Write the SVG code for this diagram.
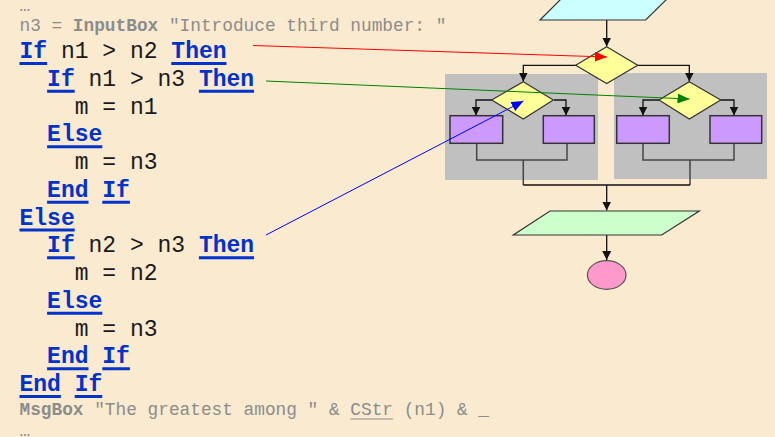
<svg xmlns="http://www.w3.org/2000/svg" width="775" height="437" viewBox="0 0 775 437">
  <style>
    .code { font-family: "Liberation Mono", "DejaVu Sans Mono", monospace; font-size: 23px; fill: #1a1a1a; }
    .kw { font-weight: bold; fill: #0033cc; }
    .ul { stroke: #0033cc; stroke-width: 3; fill: none; }
    .dim { font-family: "Liberation Mono", "DejaVu Sans Mono", monospace; font-size: 17.8px; fill: #8c8c8c; }
    .dimb { font-weight: bold; }
    .panel { fill: #c0c0c0; }
    .io-in { fill: #ccffff; stroke: #333; stroke-width: 1.2; }
    .io-out { fill: #ccffcc; stroke: #333; stroke-width: 1.2; }
    .dec { fill: #ffff99; stroke: #333; stroke-width: 1.2; }
    .proc { fill: #cc99ff; stroke: #333; stroke-width: 1.5; }
    .term { fill: #ff99cc; stroke: #555; stroke-width: 1.2; }
    .flow { fill: none; stroke: #111; stroke-width: 1.3; }
    .join { fill: none; stroke: #444; stroke-width: 1.5; }
    .link { fill: none; stroke-width: 1; }
  </style>
  <defs>
    <marker id="ah" markerUnits="userSpaceOnUse" markerWidth="9" markerHeight="9" viewBox="0 0 8 8" refX="8" refY="4" orient="auto">
      <path d="M0,0 L8,4 L0,8 z" fill="#111"/>
    </marker>
    <marker id="ah-red" markerUnits="userSpaceOnUse" markerWidth="12" markerHeight="10" viewBox="0 0 12 10" refX="12" refY="5" orient="auto">
      <path d="M0,0 L12,5 L0,10 z" fill="#ff0000"/>
    </marker>
    <marker id="ah-green" markerUnits="userSpaceOnUse" markerWidth="12" markerHeight="10" viewBox="0 0 12 10" refX="12" refY="5" orient="auto">
      <path d="M0,0 L12,5 L0,10 z" fill="#008000"/>
    </marker>
    <marker id="ah-blue" markerUnits="userSpaceOnUse" markerWidth="12" markerHeight="10" viewBox="0 0 12 10" refX="12" refY="5" orient="auto">
      <path d="M0,0 L12,5 L0,10 z" fill="#0000ff"/>
    </marker>
  </defs>

  <rect width="775" height="437" fill="#faebd0"/>

  <!-- code listing -->
  <g id="listing" xml:space="preserve">
    <text class="dim" x="19.5" y="11">…</text>
    <text class="dim" x="19.5" y="31">n3 = <tspan class="dimb">InputBox</tspan> "Introduce third number: "</text>

    <text class="code" x="19.5" y="58"><tspan class="kw">If</tspan> n1 &gt; n2 <tspan class="kw">Then</tspan></text>
    <text class="code" x="47.1" y="85.75"><tspan class="kw">If</tspan> n1 &gt; n3 <tspan class="kw">Then</tspan></text>
    <text class="code" x="74.7" y="113.5">m = n1</text>
    <text class="code kw" x="47.1" y="141.25">Else</text>
    <text class="code" x="74.7" y="169">m = n3</text>
    <text class="code kw" x="47.1" y="196.75">End If</text>
    <text class="code kw" x="19.5" y="224.5">Else</text>
    <text class="code" x="47.1" y="252.25"><tspan class="kw">If</tspan> n2 &gt; n3 <tspan class="kw">Then</tspan></text>
    <text class="code" x="74.7" y="280">m = n2</text>
    <text class="code kw" x="47.1" y="307.75">Else</text>
    <text class="code" x="74.7" y="335.5">m = n3</text>
    <text class="code kw" x="47.1" y="363.25">End If</text>
    <text class="code kw" x="19.5" y="391">End If</text>

    <text class="dim" x="19.5" y="415"><tspan class="dimb">MsgBox</tspan> "The greatest among " &amp; CStr (n1) &amp; _</text>
    <text class="dim" x="19.5" y="436">…</text>

    <!-- keyword underlines -->
    <path class="ul" d="M19.5,63.5 h27.6 M171.3,63.5 h55.2
                        M47.1,91.25 h27.6 M198.9,91.25 h55.2
                        M47.1,146.75 h55.2
                        M47.1,202.25 h41.4 M102.3,202.25 h27.6
                        M19.5,230 h55.2
                        M47.1,257.75 h27.6 M198.9,257.75 h55.2
                        M47.1,313.25 h55.2
                        M47.1,368.75 h41.4 M102.3,368.75 h27.6
                        M19.5,396.5 h41.4 M74.7,396.5 h27.6"/>
    <path d="M350.3,419 h42.7" stroke="#8c8c8c" stroke-width="1" fill="none"/>
  </g>

  <!-- branch panels -->
  <rect id="panel-left" class="panel" x="445" y="74" width="153" height="106"/>
  <rect id="panel-right" class="panel" x="614" y="73" width="153" height="106"/>

  <!-- flow connectors -->
  <g id="connectors">
    <path class="flow" d="M606.7,20 V46.5" marker-end="url(#ah)"/>
    <path class="flow" d="M576,65.3 H523.3 V81.5" marker-end="url(#ah)"/>
    <path class="flow" d="M637.7,65.3 H689.3 V81.5" marker-end="url(#ah)"/>
    <path class="flow" d="M492,100 H476 V115.5" marker-end="url(#ah)"/>
    <path class="flow" d="M554,100 H566 V115.5" marker-end="url(#ah)"/>
    <path class="flow" d="M659,100 H643 V115.5" marker-end="url(#ah)"/>
    <path class="flow" d="M720.7,100 H734 V115.5" marker-end="url(#ah)"/>
    <path class="join" d="M476.7,143.3 V160 H567 V143.3 M523.3,160 V185"/>
    <path class="join" d="M643,143.3 V160 H734 V143.3 M690,160 V185"/>
    <path class="flow" d="M523.3,185 H690"/>
    <path class="flow" d="M606.7,185 V210.5" marker-end="url(#ah)"/>
    <path class="flow" d="M606.7,235 V260" marker-end="url(#ah)"/>
  </g>

  <!-- flowchart shapes -->
  <g id="input"><polygon class="io-in" points="540,20 645.7,20 668,-2 562,-2"/></g>
  <g id="decision-n1-n2"><polygon class="dec" points="606.7,46.7 637.7,65.3 606.7,83.5 575.7,65.3"/></g>
  <g id="decision-n1-n3"><polygon class="dec" points="523.3,81.7 553.3,100 523.3,119 491.7,100"/></g>
  <g id="decision-n2-n3"><polygon class="dec" points="689.3,81.7 720.7,100 689.3,119 659,100"/></g>
  <g id="assign-a"><rect class="proc" x="450" y="115.7" width="52.7" height="27.6"/></g>
  <g id="assign-b"><rect class="proc" x="543.3" y="115.7" width="51" height="27.6"/></g>
  <g id="assign-c"><rect class="proc" x="616.7" y="115.7" width="52.6" height="27.6"/></g>
  <g id="assign-d"><rect class="proc" x="710" y="115.7" width="51.7" height="27.6"/></g>
  <g id="output"><polygon class="io-out" points="550,211 699.3,211 661.7,235 513.3,235"/></g>
  <g id="end"><ellipse class="term" cx="606.7" cy="275" rx="19.3" ry="14.3"/></g>

  <!-- pointers from code to chart -->
  <g id="pointers">
    <path class="link" stroke="#ff0000" d="M253,45.5 L607,57" marker-end="url(#ah-red)"/>
    <path class="link" stroke="#008000" d="M266,81 L689.5,99" marker-end="url(#ah-green)"/>
    <path class="link" stroke="#0000ff" d="M266,235 L523.5,101" marker-end="url(#ah-blue)"/>
  </g>
</svg>
